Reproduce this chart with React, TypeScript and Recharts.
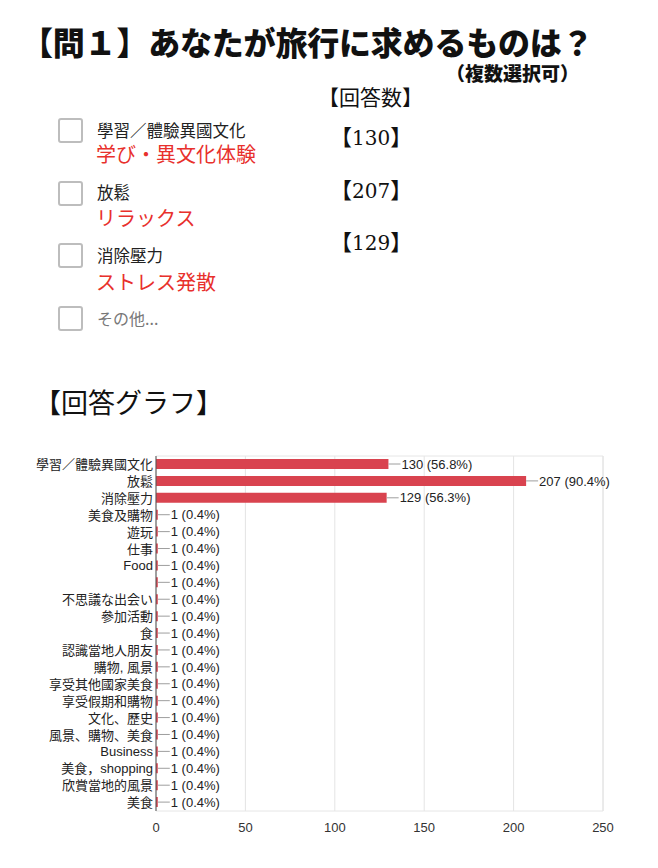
import React from "react";
import {
  BarChart,
  Bar,
  XAxis,
  YAxis,
  CartesianGrid,
  ReferenceArea,
  LabelList,
} from "recharts";

const categories = [
  "學習／體驗異國文化",
  "放鬆",
  "消除壓力",
  "美食及購物",
  "遊玩",
  "仕事",
  "Food",
  "",
  "不思議な出会い",
  "參加活動",
  "食",
  "認識當地人朋友",
  "購物, 風景",
  "享受其他國家美食",
  "享受假期和購物",
  "文化、歷史",
  "風景、購物、美食",
  "Business",
  "美食，shopping",
  "欣賞當地的風景",
  "美食",
];
const counts = [130, 207, 129, 1, 1, 1, 1, 1, 1, 1, 1, 1, 1, 1, 1, 1, 1, 1, 1, 1, 1];
const percents = [56.8, 90.4, 56.3, 0.4, 0.4, 0.4, 0.4, 0.4, 0.4, 0.4, 0.4, 0.4, 0.4, 0.4, 0.4, 0.4, 0.4, 0.4, 0.4, 0.4, 0.4];
const xTicks = [0, 50, 100, 150, 200, 250];
const minorTicks = [0, 25, 50, 75, 100, 125, 150, 175, 200, 225, 250];

const options = [
  { zh: "學習／體驗異國文化", ja: "学び・異文化体験" },
  { zh: "放鬆", ja: "リラックス" },
  { zh: "消除壓力", ja: "ストレス発散" },
];

const chartData = categories.map((name, i) => ({
  name,
  value: counts[i],
  label: `${counts[i]} (${percents[i]}%)`,
}));

const JP = '"Noto Sans CJK JP", "Noto Sans", sans-serif';
const SANS = '"Liberation Sans", Arial, "Noto Sans CJK JP", sans-serif';

const BarLabel = (props: any) => {
  const { x, y, width, height, value } = props;
  const x0 = Number(x) + Number(width);
  const cy = Number(y) + Number(height) / 2;
  return (
    <g>
      <line x1={x0} y1={cy} x2={x0 + 12} y2={cy} stroke="#9e9e9e" strokeWidth={1} />
      <text x={x0 + 13} y={cy} dy="0.36em" fontSize={13} fill="#222" fontFamily={SANS}>
        {value}
      </text>
    </g>
  );
};

const abs = (top: number, left: number, extra: React.CSSProperties = {}): React.CSSProperties => ({
  position: "absolute",
  top,
  left,
  lineHeight: 1,
  whiteSpace: "nowrap",
  fontFamily: JP,
  ...extra,
});

const boxTops = [118, 181, 243, 306];
const zhTops = [122, 184, 247, 310];
const jaTops = [144, 208, 272];
const countTops = [124, 177, 229];

export default function App() {
  return (
    <div
      style={{
        position: "absolute",
        top: 0,
        left: 0,
        width: 658,
        height: 868,
        background: "#fff",
        overflow: "hidden",
      }}
    >
      <div style={abs(25, 21, { fontSize: 32, fontWeight: 900, color: "#111", letterSpacing: -0.2 })}>
        【問１】あなたが旅行に求めるものは？
      </div>
      <div style={abs(63, 446, { fontSize: 19, fontWeight: 900, color: "#111" })}>（複数選択可）</div>
      <div style={abs(86, 318, { fontSize: 21, color: "#111" })}>【回答数】</div>

      {boxTops.map((t, i) => (
        <div
          key={i}
          style={{
            position: "absolute",
            top: t,
            left: 58,
            width: 21,
            height: 21,
            border: "2px solid #bdbdbd",
            borderRadius: 3,
          }}
        />
      ))}
      {options.map((o, i) => (
        <React.Fragment key={i}>
          <div style={abs(zhTops[i], 97, { fontSize: 16.5, color: "#222" })}>{o.zh}</div>
          <div style={abs(jaTops[i], 96, { fontSize: 20, color: "#e8302c" })}>{o.ja}</div>
          <div style={abs(countTops[i], 330, { fontSize: 22, color: "#111" })}>
            【<span style={{ fontFamily: '"DejaVu Serif", serif', fontSize: 20 }}>{counts[i]}</span>】
          </div>
        </React.Fragment>
      ))}
      <div style={abs(zhTops[3], 97, { fontSize: 16, color: "#777" })}>その他...</div>

      <div style={abs(388, 34, { fontSize: 27, color: "#111" })}>【回答グラフ】</div>

      <div style={{ position: "absolute", top: 446, left: 0 }}>
        <BarChart
          width={658}
          height={400}
          data={chartData}
          layout="vertical"
          margin={{ top: 10, right: 55, bottom: 5, left: 6 }}
          barCategoryGap={0}
        >
          <CartesianGrid horizontal={false} stroke="#f2f2f2" xAxisId="minor" />
          <CartesianGrid horizontal={false} stroke="#e4e4e4" />
          <ReferenceArea x1={0} x2={250} stroke="#e6e6e6" fill="none" ifOverflow="visible" />
          <XAxis
            xAxisId="minor"
            type="number"
            domain={[0, 250]}
            ticks={minorTicks}
            hide
          />
          <XAxis
            type="number"
            domain={[0, 250]}
            ticks={xTicks}
            axisLine={false}
            tickLine={false}
            tickMargin={6}
            height={30}
            tick={{ fontSize: 13, fill: "#333", fontFamily: SANS }}
          />
          <YAxis
            type="category"
            dataKey="name"
            width={150}
            interval={0}
            tickLine={false}
            tickSize={3}
            tickMargin={0}
            axisLine={{ stroke: "#555", strokeWidth: 1 }}
            tick={{ fontSize: 13, fill: "#222", fontFamily: SANS }}
          />
          <Bar dataKey="value" fill="#d9434f" barSize={10} isAnimationActive={false}>
            <LabelList dataKey="label" content={BarLabel} />
          </Bar>
        </BarChart>
      </div>
    </div>
  );
}
